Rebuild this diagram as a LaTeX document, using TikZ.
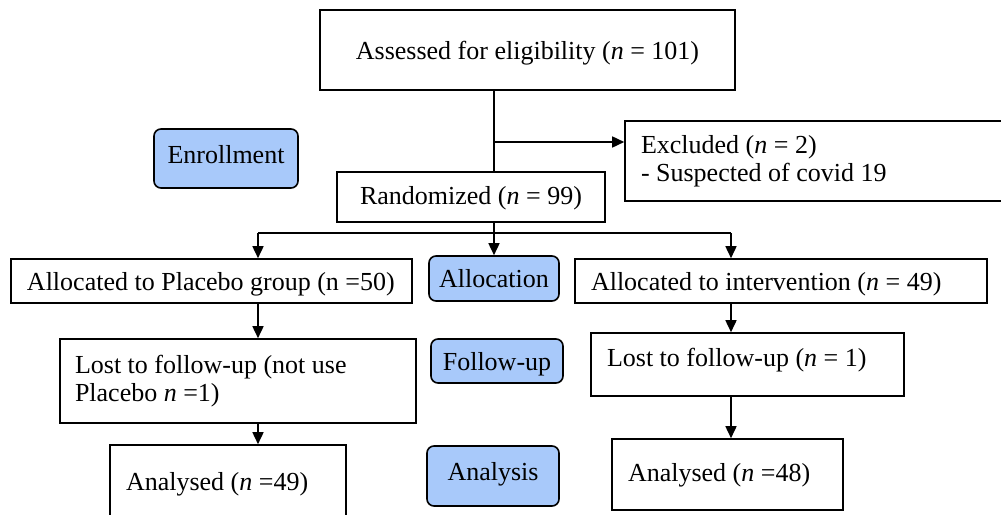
\documentclass[tikz,border=0pt]{standalone}
\usepackage{fontspec}
\setmainfont{Liberation Serif}
\usetikzlibrary{arrows.meta}
\definecolor{phaseblue}{RGB}{168,201,250}

\begin{document}
\begin{tikzpicture}[x=1pt,y=-1pt,line width=1.6pt,font=\fontsize{26}{28}\selectfont,
  box/.style={draw,inner sep=0pt,text height=18pt,text depth=0pt},
  multi/.style={draw,inner sep=0pt,align=flush left},
  phase/.style={box,rounded corners=7pt,fill=phaseblue},
  arr/.style={-{Triangle[length=12pt,width=11pt]}}]
\useasboundingbox (0,0) rectangle (1001,514);
\coordinate (split) at (494,142);
\coordinate (fork) at (494,233);
\coordinate (L) at (258,233);
\coordinate (R) at (731,233);
\node[box,minimum width=415pt,minimum height=80pt] (assess) at (527.5,50) {Assessed for eligibility (\textit{n} = 101)};
\node[multi,minimum width=390pt,minimum height=80pt,text width=358pt] (exc) at (820,161) {Excluded (\textit{n} = 2)\\- Suspected of covid 19};
\node[box,minimum width=268pt,minimum height=50pt,text depth=4pt] (rand) at (471,197) {Randomized (\textit{n} = 99)};
\node[box,minimum width=401pt,minimum height=44pt,text width=369pt,align=flush left] (plac) at (211.5,281) {Allocated to Placebo group (n =50)};
\node[box,minimum width=412pt,minimum height=44pt,text width=380pt,align=flush left] (intv) at (781,281) {Allocated to intervention (\textit{n} = 49)};
\node[multi,minimum width=356pt,minimum height=84pt,text width=326pt] (lost1) at (238,381) {Lost to follow-up (not use\\Placebo \textit{n} =1)};
\node[box,minimum width=313pt,minimum height=63pt,text width=281pt,align=flush left,text depth=15pt] (lost2) at (747.5,364.5) {Lost to follow-up (\textit{n} = 1)};
\node[box,minimum width=236pt,minimum height=80pt,text width=204pt,align=flush left,text depth=8pt] (an1) at (228,485) {Analysed (\textit{n} =49)};
\node[box,minimum width=231pt,minimum height=71pt,text width=199pt,align=flush left,text depth=4pt] (an2) at (727.5,474.5) {Analysed (\textit{n} =48)};
\node[phase,minimum width=144pt,minimum height=59pt,text depth=9pt] (enrol) at (226,158.5) {Enrollment};
\node[phase,minimum width=130pt,minimum height=45pt] (alloc) at (494,278.5) {Allocation};
\node[phase,minimum width=132pt,minimum height=44pt] (follow) at (497,361) {Follow-up};
\node[phase,minimum width=132pt,minimum height=60pt,text depth=10pt] (analy) at (493,476) {Analysis};
\draw (assess.south -| fork) -- (rand.north -| fork);
\draw[arr] (split) -- (split -| exc.west);
\draw (rand.south -| fork) -- (fork);
\draw (L) -- (R);
\draw[arr] (L) -- (plac.north -| L);
\draw[arr] (fork) -- (alloc.north);
\draw[arr] (R) -- (intv.north -| R);
\draw[arr] (plac.south -| L) -- (lost1.north -| L);
\draw[arr] (lost1.south -| L) -- (an1.north -| L);
\draw[arr] (intv.south -| R) -- (lost2.north -| R);
\draw[arr] (lost2.south -| R) -- (an2.north -| R);
\end{tikzpicture}
\end{document}
